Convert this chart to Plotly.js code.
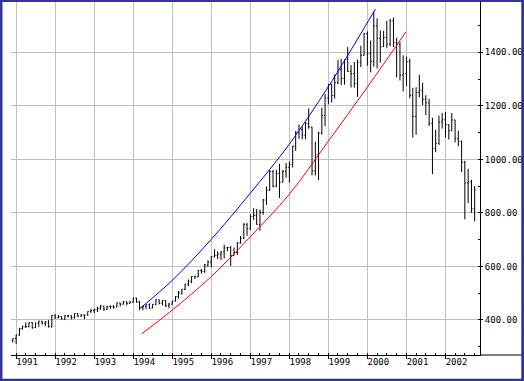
<!DOCTYPE html>
<html>
<head>
<meta charset="utf-8">
<script src="https://cdn.plot.ly/plotly-3.0.1.min.js"></script>
<style>
html,body{margin:0;padding:0;background:#fff;}
#chart{width:524px;height:381px;}
</style>
</head>
<body>
<div id="chart"></div>
<script>
// Monthly bars, Dec 1990 .. Oct 2002
const startYear = 1990, startMonth = 12, barCount = 143;

const opens = [322.2,
 330.2,343.9,367.1,375.2,375.4,389.8,371.2,387.8,395.4,387.9,392.5,375.1,
 417.0,408.8,412.7,403.7,415.0,415.4,408.2,424.2,414.0,417.8,418.7,431.4,
 435.7,438.8,443.4,451.7,440.2,450.2,450.5,448.1,463.6,458.9,467.8,461.8,
 466.5,481.6,467.2,445.8,450.9,456.5,444.3,458.3,475.5,462.7,472.4,453.6,
 459.1,470.4,487.4,500.7,514.8,533.5,544.8,562.1,561.1,584.4,581.5,605.4,
 615.9,636.0,640.4,645.5,654.2,669.1,670.6,640.0,652.0,687.3,705.3,757.0,
 740.7,786.2,790.8,757.1,801.3,848.3,885.1,954.3,899.5,947.3,914.6,955.4,
 970.4,980.3,1049.3,1101.8,1111.8,1090.8,1133.8,1120.7,957.3,1017.0,1098.7,1163.6,
 1229.2,1279.6,1238.3,1286.4,1335.2,1301.8,1372.7,1328.7,1320.4,1282.8,1362.9,1388.9,
 1469.3,1394.5,1366.4,1498.6,1452.4,1420.6,1454.6,1430.8,1517.7,1436.5,1429.4,1315.0,
 1320.3,1366.0,1239.9,1160.3,1249.5,1255.8,1224.4,1211.2,1133.6,1040.9,1059.8,1139.5,
 1148.1,1130.2,1106.7,1147.4,1076.9,1067.1,989.8,911.6,916.1,815.3];

const highs = [330.9,
 344.0,370.5,378.3,390.5,391.0,392.2,390.5,396.6,396.6,395.7,399.3,418.3,
 420.8,418.6,413.7,419.1,419.0,416.9,424.8,425.1,422.6,419.3,431.6,441.3,
 442.0,449.6,456.3,452.0,453.5,453.9,455.5,464.3,463.9,470.9,469.1,471.3,
 482.9,482.9,471.1,453.1,458.2,462.1,459.3,477.1,476.0,474.7,473.4,464.0,
 471.4,489.2,508.2,515.2,535.4,551.1,563.8,565.0,586.8,590.7,609.1,622.9,
 638.5,664.2,656.9,656.9,681.1,673.3,676.3,670.5,690.9,714.1,762.1,761.8,
 794.7,817.7,814.9,812.9,851.9,898.7,961.0,960.3,961.4,983.1,960.3,986.3,
 992.7,1051.1,1105.7,1130.5,1123.0,1138.5,1190.6,1121.1,1066.1,1102.6,1193.2,1244.9,
 1280.5,1283.4,1316.6,1371.6,1375.9,1372.9,1420.3,1352.5,1363.6,1373.2,1424.4,1473.1,
 1478.0,1444.6,1552.9,1527.2,1481.5,1480.0,1517.3,1525.2,1530.1,1454.8,1438.5,1389.1,
 1383.4,1376.4,1267.4,1269.3,1315.9,1286.6,1239.8,1226.3,1155.4,1110.6,1163.4,1173.0,
 1176.6,1130.2,1173.0,1147.8,1106.6,1070.7,994.5,965.0,924.0,900.1];

const lows = [316.0,
 309.4,340.9,363.8,369.9,372.2,366.8,370.0,374.1,383.0,376.4,371.3,371.2,
 403.5,406.0,400.5,399.6,409.3,401.9,404.7,410.6,413.1,402.7,415.7,426.1,
 425.9,429.8,438.4,433.5,436.9,441.7,442.0,447.6,450.2,457.8,454.4,460.9,
 464.5,464.3,436.2,435.9,440.1,441.8,443.8,455.3,458.0,454.3,449.0,443.8,
 457.2,469.2,479.4,494.3,511.4,526.0,537.2,552.7,559.7,573.0,576.0,598.8,
 596.8,633.7,627.6,624.1,630.1,657.0,601.8,639.9,643.1,684.9,702.3,714.5,
 737.0,773.4,756.1,733.5,793.2,829.8,882.0,895.5,897.2,855.3,914.6,931.3,
 912.8,969.5,1032.1,1076.7,1074.4,1074.7,1114.3,939.9,939.9,923.3,1092.4,1124.1,
 1205.5,1212.2,1226.6,1281.1,1277.1,1279.6,1327.0,1268.4,1268.0,1233.7,1345.1,1387.4,
 1350.1,1325.1,1346.6,1339.4,1361.1,1420.6,1416.5,1422.3,1419.4,1305.8,1294.9,1254.1,
 1274.6,1228.3,1081.2,1091.9,1232.0,1203.0,1165.5,1124.9,944.8,1026.8,1054.3,1114.9,
 1081.7,1074.4,1106.7,1063.5,1048.4,952.9,775.7,837.0,800.2,768.6];

const closes = [330.2,
 343.9,367.1,375.2,375.3,389.8,371.2,387.8,395.4,387.9,392.5,375.2,417.1,
 408.8,412.7,403.7,415.0,415.4,408.1,424.2,414.0,417.8,418.7,431.4,435.7,
 438.8,443.4,451.7,440.2,450.2,450.5,448.1,463.6,458.9,467.8,461.8,466.5,
 481.6,467.1,445.8,450.9,456.5,444.3,458.3,475.5,462.7,472.4,453.7,459.3,
 470.4,487.4,500.7,514.7,533.4,544.8,562.1,561.9,584.4,581.5,605.4,615.9,
 636.0,640.4,645.5,654.2,669.1,670.6,640.0,652.0,687.3,705.3,757.0,740.7,
 786.2,790.8,757.1,801.3,848.3,885.1,954.3,899.5,947.3,914.6,955.4,970.4,
 980.3,1049.3,1101.8,1111.8,1090.8,1133.8,1120.7,957.3,1017.0,1098.7,1163.6,1229.2,
 1279.6,1238.3,1286.4,1335.2,1301.8,1372.7,1328.7,1320.4,1282.7,1362.9,1388.9,1469.3,
 1394.5,1366.4,1498.6,1452.4,1420.6,1454.6,1430.8,1517.7,1436.5,1429.4,1315.0,1320.3,
 1366.0,1239.9,1160.3,1249.5,1255.8,1224.4,1211.2,1133.6,1040.9,1059.8,1139.5,1148.1,
 1130.2,1106.7,1147.4,1076.9,1067.1,989.8,911.6,916.1,815.3,885.8];

// Upper (blue) and lower (red) channel curves
const upperDates  = ['1994-03-08','1995-01-01','1996-01-01','1997-01-01','1998-01-01','1999-01-01','2000-03-17'];
const upperValues = [444, 548, 701, 874, 1057, 1272, 1562];
const lowerDates  = ['1994-03-21','1995-01-01','1996-01-01','1997-01-01','1998-01-01','1999-01-01','2000-01-01','2000-12-28'];
const lowerValues = [348, 437, 562, 711, 870, 1068, 1270, 1477];

const yTickVals = [400, 600, 800, 1000, 1200, 1400];

const dates = [];
for (let i = 0; i < barCount; i++) {
  const m0 = startMonth - 1 + i;
  const y = startYear + Math.floor(m0 / 12);
  const m = (m0 % 12) + 1;
  dates.push(y + '-' + (m < 10 ? '0' + m : m) + '-01');
}

const traces = [
  {
    type: 'ohlc', x: dates, open: opens, high: highs, low: lows, close: closes,
    increasing: {line: {color: '#000000', width: 1}},
    decreasing: {line: {color: '#000000', width: 1}},
    tickwidth: 0.35, hoverinfo: 'skip', showlegend: false
  },
  {
    type: 'scatter', mode: 'lines', x: upperDates, y: upperValues,
    line: {color: '#0000ff', width: 1, shape: 'spline'}, hoverinfo: 'skip', showlegend: false
  },
  {
    type: 'scatter', mode: 'lines', x: lowerDates, y: lowerValues,
    line: {color: '#ff0000', width: 1, shape: 'spline'}, hoverinfo: 'skip', showlegend: false
  }
];

const navy = '#333399';
const px2x = function(p){ return (p - 11) / 469; };
const px2y = function(p){ return (355 - p) / 353; };

const layout = {
  width: 524, height: 381,
  margin: {l: 11, r: 44, t: 2, b: 26, pad: 0},
  paper_bgcolor: '#ffffff', plot_bgcolor: '#ffffff',
  showlegend: false,
  font: {family: 'DejaVu Sans Mono, monospace', size: 9, color: '#000000'},
  xaxis: {
    type: 'date', range: ['1990-11-14', '2002-11-20'],
    tick0: '1991-01-01', dtick: 'M12', tickformat: '%Y',
    ticks: 'outside', ticklen: 3, tickcolor: '#000000', tickwidth: 1,
    ticklabelshift: 11, ticklabelstandoff: -5,
    showgrid: true, gridcolor: '#c0c0c0', gridwidth: 1,
    showline: true, linecolor: '#000000', linewidth: 1,
    minor: {dtick: 'M3', tick0: '1991-01-01', ticks: 'inside', ticklen: 2, tickcolor: '#000000', showgrid: false},
    rangeslider: {visible: false}, zeroline: false, fixedrange: true,
    tickfont: {family: 'DejaVu Sans Mono, monospace', size: 9, color: '#000000'}
  },
  yaxis: {
    side: 'right', range: [269, 1588],
    tickvals: yTickVals, tickformat: '.2f',
    ticks: 'outside', ticklen: 2, tickcolor: '#000000',
    showgrid: true, gridcolor: '#c0c0c0', gridwidth: 1,
    showline: true, linecolor: '#000000', linewidth: 1,
    minor: {dtick: 100, tick0: 0, ticks: 'inside', ticklen: 2, tickcolor: '#000000', showgrid: false},
    zeroline: false, fixedrange: true,
    tickfont: {family: 'DejaVu Sans Mono, monospace', size: 9, color: '#000000'}
  },
  shapes: [
    {type: 'line', xref: 'paper', yref: 'paper', x0: 1, x1: px2x(522), y0: 0, y1: 0,
     line: {color: '#000000', width: 1}},
    {type: 'rect', xref: 'paper', yref: 'paper', x0: px2x(0), x1: px2x(2.5), y0: px2y(381), y1: px2y(0),
     fillcolor: navy, line: {width: 0}},
    {type: 'rect', xref: 'paper', yref: 'paper', x0: px2x(521.3), x1: px2x(524), y0: px2y(381), y1: px2y(0),
     fillcolor: navy, line: {width: 0}},
    {type: 'rect', xref: 'paper', yref: 'paper', x0: px2x(0), x1: px2x(524), y0: px2y(2), y1: px2y(0),
     fillcolor: navy, line: {width: 0}},
    {type: 'rect', xref: 'paper', yref: 'paper', x0: px2x(0), x1: px2x(524), y0: px2y(381), y1: px2y(378.7),
     fillcolor: navy, line: {width: 0}}
  ]
};

Plotly.newPlot('chart', traces, layout, {staticPlot: true, displayModeBar: false});
</script>
</body>
</html>
